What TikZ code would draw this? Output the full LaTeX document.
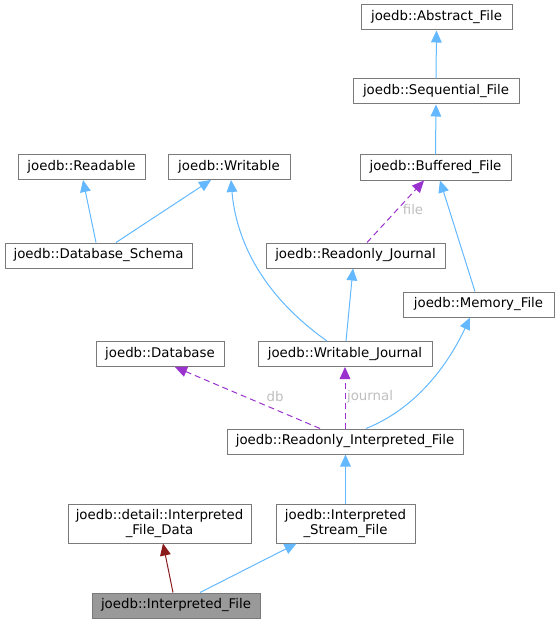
\documentclass[tikz,border=0pt]{standalone}
\usepackage{fontspec}
\setmainfont{DejaVu Sans}
\usetikzlibrary{arrows.meta,calc}
\definecolor{edgeblue}{HTML}{63B8FF}
\definecolor{edgepurple}{HTML}{9A32CD}
\definecolor{edgered}{HTML}{8B1A1A}
\definecolor{boxborder}{HTML}{7A7A7A}
\definecolor{labelgray}{HTML}{BEBEBE}
\definecolor{focusfill}{HTML}{999999}
\begin{document}
\begin{tikzpicture}[x=0.75pt,y=-0.75pt,
  cls/.style={draw=boxborder, fill=white, line width=0.75pt, inner sep=0pt, align=center,
    minimum height=18.75pt, font=\fontsize{10}{11}\selectfont},
  w/.style={minimum width={#1*0.75pt}},
  h/.style={minimum height={#1*0.75pt}},
  tip/.style={-{Triangle[length=9pt,width=8pt]}},
  inh/.style={draw=edgeblue, line width=0.75pt, tip, fill=none},
  usage/.style={draw=edgepurple, line width=0.75pt, dashed, dash pattern=on 4.5pt off 3pt, tip},
  priv/.style={draw=edgered, line width=0.75pt, tip},
  elabel/.style={text=labelgray, font=\fontsize{10}{11}\selectfont, inner sep=0pt}
]
\useasboundingbox (0,0) rectangle (559,624);

\node[cls,w=151] (abstract) at (436.5,17.5) {joedb::Abstract\_File};
\node[cls,w=166] (seq) at (436,91.5) {joedb::Sequential\_File};
\node[cls,w=151] (buf) at (435.5,167.5) {joedb::Buffered\_File};
\node[cls,w=127] (readable) at (81.5,167) {joedb::Readable};
\node[cls,w=122] (writable) at (229,167) {joedb::Writable};
\node[cls,w=187] (schema) at (98.5,255.5) {joedb::Database\_Schema};
\node[cls,w=179] (roj) at (355.5,255.5) {joedb::Readonly\_Journal};
\node[cls,w=151] (mem) at (478.5,304.5) {joedb::Memory\_File};
\node[cls,w=128] (db) at (160,354) {joedb::Database};
\node[cls,w=174] (wj) at (345,354) {joedb::Writable\_Journal};
\node[cls,w=236] (rif) at (345,441.5) {joedb::Readonly\_Interpreted\_File};
\node[cls,w=183,h=39] (detail) at (159.5,523.5) {joedb::detail::Interpreted\\\_File\_Data};
\node[cls,w=139,h=39] (stream) at (345.5,523.5) {joedb::Interpreted\\\_Stream\_File};
\node[cls,w=168,fill=focusfill] (interp) at (176,605.5) {joedb::Interpreted\_File};

\draw[inh] (seq.north) -- (abstract.south);
\draw[inh] (buf.north) -- (seq.south);
\draw[inh] ($(schema.north)+(-2.5,0)$) -- ($(readable.south)+(1.5,0)$);
\draw[inh] ($(schema.north)+(17.5,0)$) -- ($(writable.south)+(-18,0)$);
\draw[inh] ($(wj.north)+(-18,0)$) .. controls (262,295) and (236,240) .. ($(writable.south)+(2,0)$);
\draw[inh] ($(wj.north)+(1,0)$) -- ($(roj.south)+(-2.5,0)$);
\draw[usage] ($(roj.north)+(11.5,0)$) -- ($(buf.south)+(-11.5,0)$);
\node[elabel] (lfile) at (413,210) {file};
\draw[inh] ($(mem.north)+(-3.5,0)$) -- ($(buf.south)+(4.5,0)$);
\draw[inh] ($(rif.north)+(21,0)$) .. controls (425,405) and (455,350) .. ($(mem.south)+(-8.5,0)$);
\draw[usage] ($(rif.north)+(-25,0)$) -- ($(db.south)+(15,0)$);
\node[elabel] (ldb) at (275,397) {db};
\draw[usage] (rif.north) -- (wj.south);
\node[elabel] (ljournal) at (370,397) {journal};
\draw[inh] (stream.north) -- ($(rif.south)+(0.5,0)$);
\draw[priv] ($(interp.north)+(-3,0)$) -- ($(detail.south)+(3.5,0)$);
\draw[inh] ($(interp.north)+(24,0)$) -- ($(stream.south)+(-49,0)$);
\end{tikzpicture}
\end{document}
